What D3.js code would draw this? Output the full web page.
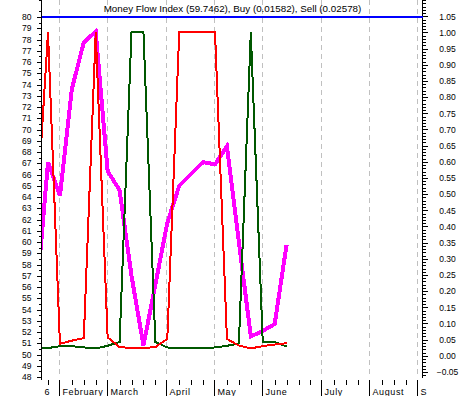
<!DOCTYPE html>
<meta charset="utf-8">
<style>
    body { margin: 0; background: #fff; }
    svg { font-family: "Liberation Sans", Arial, sans-serif; }
    .axis line { stroke: #000; shape-rendering: crispEdges; }
    .axis path { display: none; }
    .axis text { font-size: 8.5px; fill: #000; }
    .grid { stroke: #c0c0c0; stroke-dasharray: 5,4; shape-rendering: crispEdges; }
    .line { fill: none; shape-rendering: crispEdges; stroke-linejoin: miter; }
</style>
<body>
<script src="https://cdn.jsdelivr.net/npm/d3@7"></script>
<script>
    // weekly closes (fridays), first one sits just off the left edge
    const dates = ["2006-01-20", "2006-01-27", "2006-02-03", "2006-02-10", "2006-02-17", "2006-02-24",
        "2006-03-03", "2006-03-10", "2006-03-17", "2006-03-24", "2006-03-31", "2006-04-07",
        "2006-04-14", "2006-04-21", "2006-04-28", "2006-05-05", "2006-05-12", "2006-05-19",
        "2006-05-26", "2006-06-02", "2006-06-09", "2006-06-16"];
    const mfi = [54.6, 67.1, 64.1, 73.6, 77.75, 78.7, 66.3, 64.6, 57.0, 50.8, 56.2, 61.7,
        65.0, 66.05, 67.1, 66.9, 68.5, 60.0, 51.6, 52.1, 52.7, 59.7462];
    const buy = [0.022, 0.024, 0.030, 0.030, 0.026, 0.023, 0.031, 0.043, 1.0, 1.0, 0.043, 0.026,
        0.023, 0.023, 0.023, 0.026, 0.031, 0.038, 1.0, 0.043, 0.043, 0.029];
    const sell = [0.40, 1.0, 0.037, 0.047, 0.055, 1.0, 0.057, 0.027, 0.024, 0.024, 0.027, 0.052,
        1.0, 1.0, 1.0, 1.0, 0.052, 0.032, 0.023, 0.030, 0.035, 0.039];
    // september is cut to its first letter at the right edge
    const monthNames = ["January", "February", "March", "April", "May", "June", "July", "August", "S"];
    const leftTicks = d3.range(48, 81, 1);
    const rightTicks = d3.range(-5, 106, 5).map(d => d / 100);
    const title = "Money Flow Index (59.7462), Buy (0.01582), Sell (0.02578)";

    const width = 463, height = 396;
    const plot = {left: 41.5, right: 422.5, top: 0, bottom: 380};

    const parse = d3.timeParse("%Y-%m-%d");
    const data = dates.map((d, i) => ({date: parse(d), mfi: mfi[i], buy: buy[i], sell: sell[i]}));

    const x = d3.scaleTime()
        .domain([parse("2006-01-27"), parse("2006-06-16")])
        .range([48, 286.6]);
    const yL = d3.scaleLinear().domain([48, 80]).range([377, 17]);
    const yR = d3.scaleLinear().domain([-0.05, 1.05]).range([372, 16.3]);

    const svg = d3.select("body").append("svg")
        .attr("width", width)
        .attr("height", height);

    svg.append("defs").append("clipPath").attr("id", "clip")
        .append("rect")
        .attr("x", plot.left + 0.5).attr("y", plot.top)
        .attr("width", plot.right - plot.left - 1).attr("height", plot.bottom - plot.top);

    // weekly ticks along the bottom
    const fridays = d3.timeFriday.range(parse("2006-01-27"), parse("2006-09-02"));
    const xs = d => Math.round(x(d)) + 0.5;
    const monthStarts = fridays.filter(d => d.getDate() <= 7);

    svg.append("g").selectAll("line")
        .data(monthStarts)
        .enter().append("line")
        .attr("class", "grid")
        .attr("x1", d => xs(d) - 1).attr("x2", d => xs(d) - 1)
        .attr("y1", plot.top).attr("y2", plot.bottom - 2);

    const xAxis = svg.append("g").attr("class", "axis");
    xAxis.selectAll("line.minor")
        .data(fridays.filter(d => d.getDate() > 7))
        .enter().append("line")
        .attr("x1", xs).attr("x2", xs)
        .attr("y1", plot.bottom).attr("y2", plot.bottom + 5);
    xAxis.selectAll("line.major")
        .data(monthStarts)
        .enter().append("line")
        .attr("x1", d => xs(d) - 1).attr("x2", d => xs(d) - 1)
        .attr("y1", plot.bottom).attr("y2", height);
    xAxis.selectAll("text.month")
        .data(monthStarts)
        .enter().append("text")
        .attr("x", d => xs(d) + 2)
        .attr("y", 395)
        .style("font-size", "9px")
        .style("letter-spacing", "0.6px")
        .text(d => monthNames[d.getMonth()]);
    xAxis.append("text")
        .attr("x", xs(fridays[0]) - 1.5)
        .attr("y", 395)
        .attr("text-anchor", "middle")
        .style("font-size", "9px")
        .text("6");

    // left axis (money flow index)
    svg.append("g").attr("class", "axis")
        .attr("transform", "translate(" + plot.left + ",0)")
        .call(d3.axisLeft(yL).tickValues(d3.range(48.5, 82, 1)).tickSize(3).tickFormat(""));
    svg.append("g").attr("class", "axis")
        .attr("transform", "translate(" + plot.left + ",0)")
        .call(d3.axisLeft(yL).tickValues(leftTicks).tickSize(5).tickPadding(5).tickFormat(d3.format("d")));
    svg.append("line")
        .attr("x1", plot.left).attr("x2", plot.left)
        .attr("y1", plot.top).attr("y2", plot.bottom)
        .style("stroke", "#000");

    // right axis (buy / sell)
    svg.append("g").attr("class", "axis")
        .attr("transform", "translate(" + plot.right + ",0)")
        .call(d3.axisRight(yR).tickValues(d3.range(-6, 111, 1).map(d => d / 100)).tickSize(3).tickFormat(""));
    const right = svg.append("g").attr("class", "axis")
        .attr("transform", "translate(" + plot.right + ",0)")
        .call(d3.axisRight(yR).tickValues(rightTicks).tickSize(5).tickFormat(d3.format(".2f")));
    right.selectAll("text").attr("x", 25).attr("text-anchor", "middle");
    svg.append("line")
        .attr("x1", plot.right).attr("x2", plot.right)
        .attr("y1", plot.top).attr("y2", plot.bottom - 2)
        .style("stroke", "#000");

    // reference line at 80
    svg.append("line")
        .attr("x1", plot.left).attr("x2", plot.right)
        .attr("y1", yL(80)).attr("y2", yL(80))
        .style("stroke", "#0000ff")
        .style("stroke-width", 2)
        .style("shape-rendering", "crispEdges");

    const lines = svg.append("g").attr("clip-path", "url(#clip)");
    lines.append("path").datum(data)
        .attr("class", "line")
        .attr("d", d3.line().x(d => x(d.date)).y(d => yL(d.mfi)))
        .style("stroke", "#ff00ff")
        .style("stroke-width", 4);
    lines.append("path").datum(data)
        .attr("class", "line")
        .attr("d", d3.line().x(d => x(d.date)).y(d => yR(d.buy)))
        .style("stroke", "#005800")
        .style("stroke-width", 2);
    lines.append("path").datum(data)
        .attr("class", "line")
        .attr("d", d3.line().x(d => x(d.date)).y(d => yR(d.sell)))
        .style("stroke", "#ff0000")
        .style("stroke-width", 2);

    svg.append("text")
        .attr("x", 232.5)
        .attr("y", 11.5)
        .attr("text-anchor", "middle")
        .style("font-size", "9.8px")
        .text(title);
</script>
</body>
